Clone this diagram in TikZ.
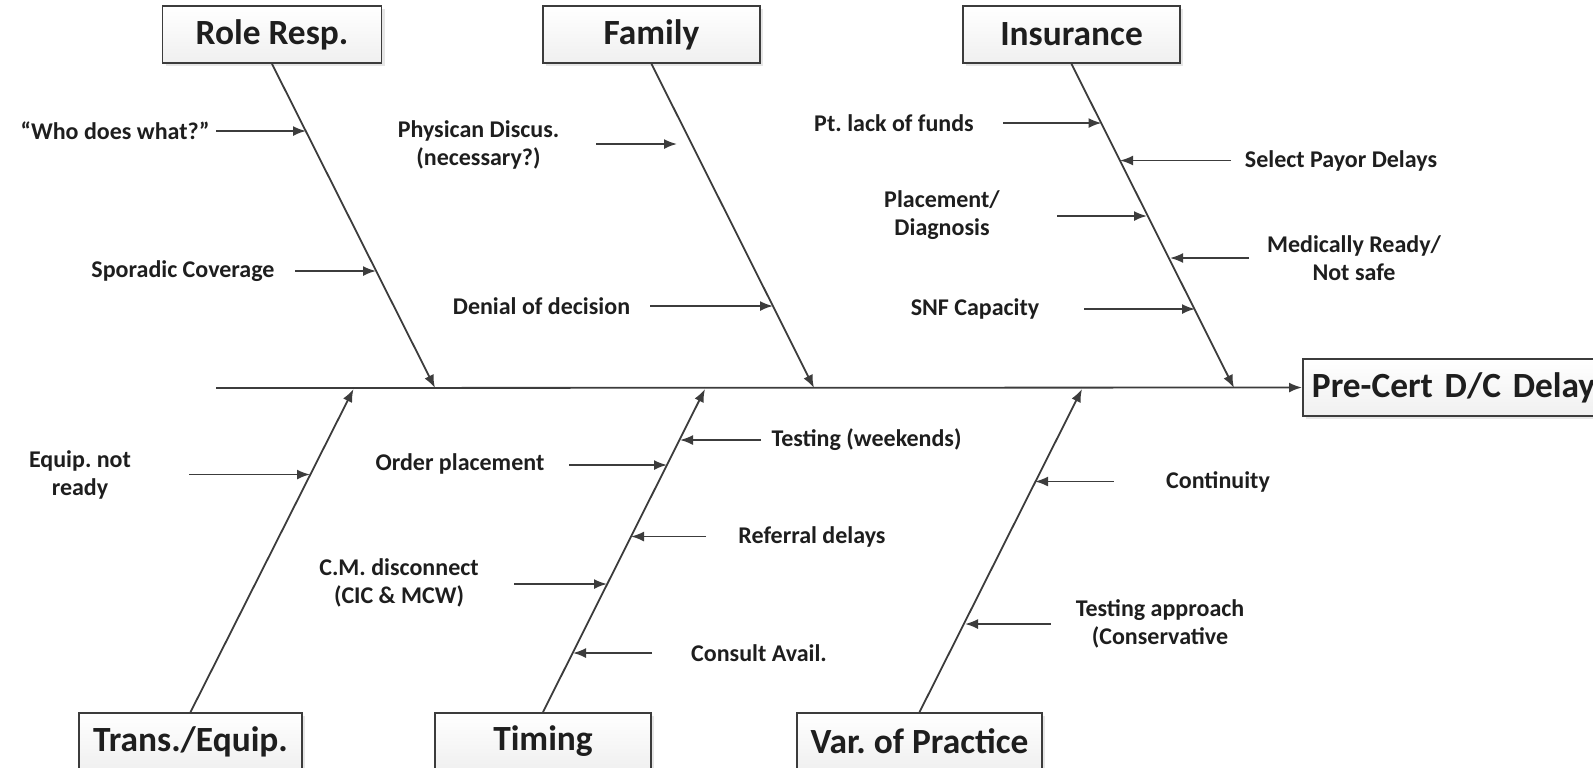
\documentclass[tikz,border=0pt]{standalone}
\usepackage{fontspec}
\setmainfont{Carlito}
\usetikzlibrary{arrows.meta,shadows}
\definecolor{ln}{HTML}{3C3C3C}
\definecolor{tx}{HTML}{1E1E1E}
\frenchspacing
\begin{document}
\begin{tikzpicture}[x=0.5pt,y=-0.5pt,
  catbox/.style={draw=ln,line width=0.9pt,top color=white,bottom color=gray!12,
    minimum height=28.5pt,inner sep=2pt,font=\bfseries\fontsize{17.7}{20}\selectfont,text=tx,
    drop shadow={shadow xshift=1.5pt,shadow yshift=-1.5pt,opacity=0.2,fill=gray}},
  lbl/.style={font=\bfseries\fontsize{12}{14}\selectfont,text=tx,align=center,inner sep=0pt},
  bone/.style={draw=ln,line width=0.9pt,-{Latex[length=6.5pt,width=5pt]}},
  sub/.style={draw=ln,line width=0.9pt,-{Latex[length=6.5pt,width=5pt]}}]
\useasboundingbox (0,0) rectangle (1593,767);
% head
\node[catbox,anchor=west,minimum width=150pt,text width=142pt,align=left,inner xsep=4.5pt] (head) at (1302,387.5) {Pre-Cert D/C Delay};
\coordinate (spineStart) at (216,388);
\draw[bone] (spineStart) -- (head.west);
% category boxes
\node[catbox,minimum width=109.5pt] (role) at (272,34.5) {Role Resp.};
\node[catbox,minimum width=108.5pt] (fam) at (651.5,34.5) {Family};
\node[catbox,minimum width=108.5pt] (ins) at (1071.5,34.5) {Insurance};
\node[catbox,minimum width=111.5pt] (trans) at (190.5,741.5) {Trans./Equip.};
\node[catbox,minimum width=108pt] (tim) at (543,741.5) {Timing};
\node[catbox,minimum width=122.5pt] (var) at (919.5,741.5) {Var. of Practice};
% bone ends on spine
\coordinate (roleE) at (435,388);
\coordinate (famE) at (814,388);
\coordinate (insE) at (1234,388);
\coordinate (transE) at (353.5,389);
\coordinate (timE) at (705,389);
\coordinate (varE) at (1082,389);
\draw[bone] (role.south) -- (roleE);
\draw[bone] (fam.south) -- (famE);
\draw[bone] (ins.south) -- (insE);
\draw[bone] (trans.north) -- (transE);
\draw[bone] (tim.north) -- (timE);
\draw[bone] (var.north) -- (varE);
% Role Resp.
\node[lbl] (r1) at (115,131) {\char"201C Who does what?\char"201D};
\coordinate (r1s) at (216,131); \coordinate (r1e) at (306,131);
\draw[sub] (r1s) -- (r1e);
\node[lbl] (r2) at (183,271) {Sporadic Coverage};
\coordinate (r2s) at (295,271); \coordinate (r2e) at (376,271);
\draw[sub] (r2s) -- (r2e);
% Family
\node[lbl] (f1) at (478.5,144.5) {Physican Discus.\\(necessary?)};
\coordinate (f1s) at (596,144); \coordinate (f1e) at (677,144);
\draw[sub] (f1s) -- (f1e);
\node[lbl] (f2) at (541.5,306) {Denial of decision};
\coordinate (f2s) at (650,306); \coordinate (f2e) at (773,306);
\draw[sub] (f2s) -- (f2e);
% Insurance
\node[lbl] (i1) at (894,123) {Pt. lack of funds};
\coordinate (i1s) at (1003,123); \coordinate (i1e) at (1101.5,123);
\draw[sub] (i1s) -- (i1e);
\node[lbl] (i2) at (1341,160.5) {Select Payor Delays};
\coordinate (i2s) at (1231,160.5); \coordinate (i2e) at (1120,160.5);
\draw[sub] (i2s) -- (i2e);
\node[lbl] (i3) at (942,215) {Placement/\\Diagnosis};
\coordinate (i3s) at (1057,216); \coordinate (i3e) at (1147,216);
\draw[sub] (i3s) -- (i3e);
\node[lbl] (i4) at (1354,258) {Medically Ready/\\Not safe};
\coordinate (i4s) at (1249,258); \coordinate (i4e) at (1170,258);
\draw[sub] (i4s) -- (i4e);
\node[lbl] (i5) at (975,309) {SNF Capacity};
\coordinate (i5s) at (1084,309); \coordinate (i5e) at (1195,309);
\draw[sub] (i5s) -- (i5e);
% Trans./Equip.
\node[lbl] (t1) at (80,475) {Equip. not\\ready};
\coordinate (t1s) at (189,474.5); \coordinate (t1e) at (310,474.5);
\draw[sub] (t1s) -- (t1e);
% Timing
\node[lbl] (m1) at (866.5,440) {Testing (weekends)};
\coordinate (m1s) at (761,440); \coordinate (m1e) at (680,440);
\draw[sub] (m1s) -- (m1e);
\node[lbl] (m2) at (460,464) {Order placement};
\coordinate (m2s) at (569,465); \coordinate (m2e) at (667,465);
\draw[sub] (m2s) -- (m2e);
\node[lbl] (m3) at (812,536.5) {Referral delays};
\coordinate (m3s) at (706,536.5); \coordinate (m3e) at (631,536.5);
\draw[sub] (m3s) -- (m3e);
\node[lbl] (m4) at (399,582.5) {C.M. disconnect\\(CIC \& MCW)};
\coordinate (m4s) at (514,584); \coordinate (m4e) at (607,584);
\draw[sub] (m4s) -- (m4e);
\node[lbl] (m5) at (759,653) {Consult Avail.};
\coordinate (m5s) at (652,653); \coordinate (m5e) at (573,653);
\draw[sub] (m5s) -- (m5e);
% Var. of Practice
\node[lbl] (v1) at (1218,481.5) {Continuity};
\coordinate (v1s) at (1113.5,481.5); \coordinate (v1e) at (1035,481.5);
\draw[sub] (v1s) -- (v1e);
\node[lbl] (v2) at (1160,624) {Testing approach\\(Conservative};
\coordinate (v2s) at (1050.5,624); \coordinate (v2e) at (965,624);
\draw[sub] (v2s) -- (v2e);
\end{tikzpicture}
\end{document}
